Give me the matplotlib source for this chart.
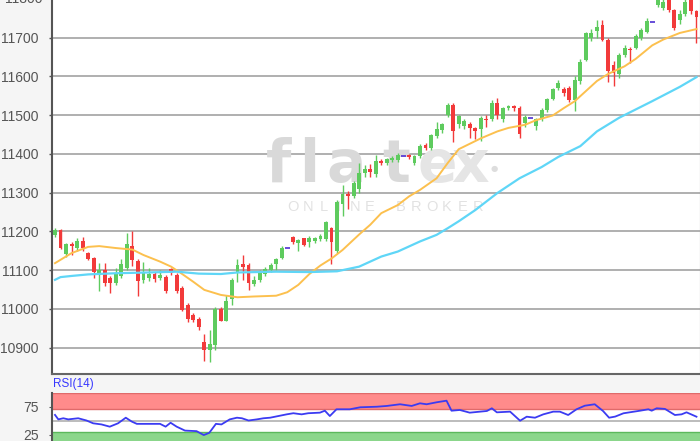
import numpy as np
import matplotlib.pyplot as plt

plt.rcParams['font.family'] = ['Liberation Sans', 'DejaVu Sans']

# OHLC per candle
opens = [11190, 11204, 11141, 11167, 11158, 11176, 11145, 11132, 11089, 11100,
         11080, 11067, 11085, 11106, 11163, 11124, 11075, 11080, 11090, 11080,
         11083, 11102, 11088, 11054, 11010, 10985, 10975, 10915, 10893, 10908,
         11000, 10970, 11025, 11092, 11116, 11113, 11065, 11075, 11090, 11100,
         11115, 11132, 11157, 11185, 11170, 11182, 11172, 11176, 11180, 11180,
         11208, 11150, 11270, 11296, 11291, 11309, 11350, 11362, 11347, 11382,
         11377, 11385, 11385, 11394, 11397, 11377, 11394, 11423, 11415, 11446,
         11462, 11500, 11527, 11476, 11472, 11476, 11467, 11463, 11490, 11489,
         11532, 11489, 11519, 11523, 11519, 11480, 11493, 11472, 11489, 11514,
         11542, 11570, 11567, 11570, 11540, 11587, 11643, 11700, 11718, 11732,
         11694, 11630, 11605, 11656, 11671, 11673, 11700, 11715, 11740, 11784,
         11777, 11800, 11771, 11745, 11762, 11800, 11768]
highs = [11210, 11207, 11170, 11172, 11182, 11185, 11148, 11135, 11118, 11118,
         11085, 11105, 11130, 11195, 11200, 11130, 11120, 11105, 11095, 11100,
         11088, 11106, 11092, 11058, 11015, 10990, 10978, 10935, 10945, 11005,
         11005, 11035, 11080, 11130, 11140, 11118, 11085, 11100, 11108, 11118,
         11132, 11162, 11157, 11188, 11180, 11184, 11188, 11186, 11192, 11228,
         11212, 11280, 11320, 11305, 11330, 11377, 11370, 11375, 11398, 11386,
         11390, 11395, 11402, 11394, 11399, 11398, 11425, 11428, 11452, 11482,
         11480, 11530, 11530, 11500, 11490, 11482, 11470, 11497, 11500, 11540,
         11545, 11522, 11527, 11525, 11524, 11500, 11493, 11493, 11518, 11545,
         11570, 11590, 11572, 11575, 11600, 11645, 11715, 11722, 11745, 11745,
         11700, 11640, 11660, 11680, 11675, 11708, 11725, 11750, 11740, 11805,
         11800, 11805, 11775, 11770, 11800, 11805, 11770]
lows = [11185, 11155, 11135, 11140, 11150, 11150, 11125, 11080, 11046, 11060,
        11042, 11062, 11080, 11100, 11110, 11033, 11068, 11072, 11070, 11075,
        11042, 11088, 11040, 10995, 10965, 10965, 10945, 10865, 10862, 10895,
        10968, 10968, 11010, 11070, 11075, 11050, 11058, 11070, 11085, 11095,
        11100, 11128, 11157, 11168, 11150, 11162, 11160, 11170, 11176, 11175,
        11117, 11145, 11240, 11258, 11285, 11300, 11340, 11340, 11340, 11372,
        11372, 11380, 11380, 11394, 11388, 11372, 11390, 11410, 11410, 11440,
        11455, 11495, 11430, 11468, 11465, 11440, 11438, 11433, 11470, 11485,
        11490, 11482, 11512, 11510, 11440, 11470, 11493, 11462, 11484, 11508,
        11538, 11565, 11550, 11535, 11510, 11580, 11640, 11690, 11700, 11690,
        11585, 11575, 11595, 11650, 11635, 11670, 11695, 11712, 11740, 11780,
        11770, 11765, 11720, 11735, 11755, 11760, 11685]
closes = [11204, 11158, 11167, 11162, 11176, 11158, 11130, 11094, 11100, 11067,
          11067, 11089, 11115, 11167, 11125, 11072, 11092, 11090, 11078, 11088,
          11046, 11093, 11045, 10998, 10975, 10972, 10952, 10895, 10910, 11000,
          10970, 11020, 11075, 11113, 11108, 11068, 11075, 11093, 11103, 11112,
          11128, 11158, 11157, 11172, 11177, 11166, 11184, 11182, 11188, 11223,
          11172, 11275, 11296, 11291, 11326, 11351, 11362, 11354, 11381, 11377,
          11387, 11390, 11398, 11394, 11392, 11394, 11419, 11415, 11449, 11463,
          11477, 11527, 11459, 11497, 11485, 11467, 11459, 11493, 11487, 11532,
          11499, 11519, 11523, 11519, 11450, 11496, 11493, 11489, 11514, 11542,
          11567, 11583, 11557, 11540, 11591, 11638, 11711, 11711, 11728, 11694,
          11613, 11608, 11656, 11673, 11669, 11703, 11720, 11744, 11740, 11797,
          11793, 11771, 11724, 11762, 11792, 11768, 11752]

# moving averages, read at candle positions
ma_fast_idx = [0, 3, 6, 8, 11, 14, 16, 19, 21, 23, 25, 27, 30, 33, 36, 40, 42, 44,
               46, 48, 50, 52, 55, 57, 59, 62, 64, 66, 69, 71, 73, 77, 80, 82, 85,
               87, 90, 92, 94, 96, 98, 100, 103, 105, 108, 110, 113, 116]
ma_fast = [11118, 11144, 11160, 11162, 11157, 11153, 11139, 11122, 11109, 11090,
           11070, 11049, 11036, 11030, 11032, 11034, 11043, 11062, 11090, 11112,
           11130, 11152, 11192, 11217, 11247, 11268, 11290, 11307, 11337, 11376,
           11412, 11440, 11458, 11467, 11475, 11487, 11499, 11518, 11536, 11562,
           11588, 11606, 11626, 11645, 11680, 11695, 11712, 11722]
ma_slow_idx = [0, 1, 3, 6, 11, 17, 22, 26, 30, 33, 40, 46, 51, 55, 57, 59, 62, 64,
               66, 69, 71, 73, 76, 80, 84, 88, 91, 95, 98, 102, 108, 113, 116]
ma_slow = [11075, 11082, 11085, 11089, 11092, 11094, 11096, 11091, 11090, 11094,
           11096, 11095, 11097, 11109, 11122, 11135, 11148, 11161, 11174, 11191,
           11208, 11226, 11255, 11299, 11337, 11366, 11392, 11420, 11458, 11493,
           11536, 11573, 11598]

# RSI(14)
rsi_idx = [0, 0.6, 1.5, 2.4, 4.2, 5.7, 6.9, 8.4, 9.9, 11.4, 12.8, 13.9, 14.8, 19,
           20, 20.9, 22, 23.5, 25.6, 26.9, 27.9, 29.1, 30.1, 31.6, 32.9, 33.8, 35,
           36.5, 37.7, 38.9, 40.4, 41.9, 43.1, 44.6, 45.8, 47.9, 48.8, 49.7, 50.9,
           53.3, 55.2, 58.2, 60, 62.4, 64.5, 66, 67.2, 69, 70.8, 71.7, 73.2, 75,
           78.1, 79, 79.9, 82.3, 84.1, 85.3, 86.8, 88.3, 90.1, 91.3, 92.8, 94.3,
           95.8, 97.6, 99.1, 100.2, 101.3, 102.8, 105.8, 107.3, 107.9, 108.8,
           110.3, 112.1, 113.3, 114.2, 116]
rsi = [60, 52, 54, 52, 54, 50, 45, 43, 39, 45, 55, 48, 44, 44, 39, 46, 39, 32, 31,
       24, 28, 44, 43, 52, 55, 54, 50, 52, 54, 55, 58, 61, 63, 61, 63, 64, 67.5,
       58, 70, 70, 73.6, 74.6, 76, 79, 76, 80.7, 79, 82.5, 85.4, 67.5, 68.8, 64,
       67, 71.8, 64.6, 65.8, 49.6, 56.8, 55, 61, 65.8, 65.8, 59.8, 70, 76.4, 79,
       67, 55, 57, 62.9, 67.5, 70, 67.5, 71.8, 70.7, 59.8, 61, 64.6, 56.8]

price_ticks = [10900, 11000, 11100, 11200, 11300, 11400, 11500, 11600, 11700]

W, H = 700, 441
fig = plt.figure(figsize=(7, 4.41), dpi=100, facecolor='#f5f5f5')
ax = fig.add_axes([52 / W, 67 / H, 648 / W, 374 / H])
rax = fig.add_axes([52 / W, 0, 648 / W, 48.5 / H])

o = np.array(opens, float)
h = np.array(highs, float)
l = np.array(lows, float)
c = np.array(closes, float)
x = np.arange(len(o))
green, red, doji_col = '#5ecb5e', '#f23a3a', '#5b3fd6'
up = c > o
dn = c < o
eq = c == o

for mask, col in [(up, green), (dn, red)]:
    ax.vlines(x[mask], l[mask], h[mask], color=col, lw=1, zorder=3)
    ax.bar(x[mask], np.abs(c - o)[mask], bottom=np.minimum(o, c)[mask],
           width=0.7, color=col, zorder=3)
ax.hlines(c[eq], x[eq] - 0.45, x[eq] + 0.45, color=doji_col, lw=1.3, zorder=3)

ax.plot(ma_fast_idx, ma_fast, color='#fcc04e', lw=1.4, zorder=4)
ax.plot(ma_slow_idx, ma_slow, color='#5fd6f7', lw=1.6, zorder=4)

ax.set_xlim(-3 / 5.53, -3 / 5.53 + 648 / 5.53)
ax.set_ylim(10832, 11797)
ax.set_xticks([])
ax.set_yticks(price_ticks)
ax.yaxis.grid(True, color='#a9a9a9', lw=1.3)
ax.set_axisbelow(True)
ax.tick_params(axis='y', length=2.5, width=1, color='#555555', pad=7,
               labelsize=10, labelcolor='#555555')
ax.spines['top'].set_visible(False)
ax.spines['left'].set_color('#555555')
ax.spines['left'].set_linewidth(1.5)
ax.spines['bottom'].set_color('#666666')
ax.spines['bottom'].set_linewidth(1.5)
ax.spines['right'].set_color('#999999')
ax.text(-9 / 648, 11800, '11800', transform=ax.get_yaxis_transform(),
        ha='right', va='center', fontsize=10, color='#555555', clip_on=False)


# watermark, placed in pixel positions of the picture
def px(xp, yp):
    return (xp - 52) / 648, (374 - yp) / 374


for ch, xp in zip('flat', [279, 309, 346, 396]):
    ax.text(*px(xp, 182), ch, transform=ax.transAxes, ha='center',
            va='baseline', fontsize=42, fontweight='bold',
            family='DejaVu Sans', color='#d9d9d9', zorder=1)
for ch, xp in zip('ex', [437, 470]):
    ax.text(*px(xp, 182), ch, transform=ax.transAxes, ha='center',
            va='baseline', fontsize=42, fontweight='bold',
            family='DejaVu Sans', color='#e5e5e5', zorder=1)
ax.text(*px(494, 168), '●', transform=ax.transAxes, ha='center', va='center',
        fontsize=6, family='DejaVu Sans', color='#dddddd', zorder=1)
for ch, xp in zip('ONLINEBROKER', [293, 308, 324, 339, 355, 370,
                                   401, 416, 432, 447, 463, 478]):
    ax.text(*px(xp, 207), ch, transform=ax.transAxes, ha='center',
            va='center', fontsize=10.5, color='#e2e2e2', zorder=1)

# RSI panel
rax.set_facecolor('white')
rax.axhspan(70, 100, color='#ff8b8b', zorder=1, lw=0)
rax.axhspan(0, 30, color='#8bd68b', zorder=1, lw=0)
rax.axhline(70, color='#e06a6a', lw=1, zorder=2)
rax.axhline(99.5, color='#e06a6a', lw=1, zorder=2)
rax.axhline(30, color='#5cb85c', lw=1, zorder=2)
rax.axhline(50, color='#b0b0b0', lw=1.2, zorder=2)
rax.plot(rsi_idx, rsi, color='#3b3bf2', lw=1.3, zorder=3)
rax.set_xlim(ax.get_xlim())
rax.set_ylim(13.4, 100)
rax.set_xticks([])
rax.set_yticks([25, 75])
rax.tick_params(axis='y', length=2.5, color='#555555', pad=7, labelsize=10,
                labelcolor='#555555')
for s in ['top', 'right', 'bottom']:
    rax.spines[s].set_visible(False)
rax.spines['left'].set_color('#555555')
rax.spines['left'].set_linewidth(1.5)
fig.text(53 / W, 1 - 384 / H, 'RSI(14)', ha='left', va='center', fontsize=8.5,
         color='#3838ff')

fig.savefig('out.png', dpi=100, facecolor=fig.get_facecolor())
